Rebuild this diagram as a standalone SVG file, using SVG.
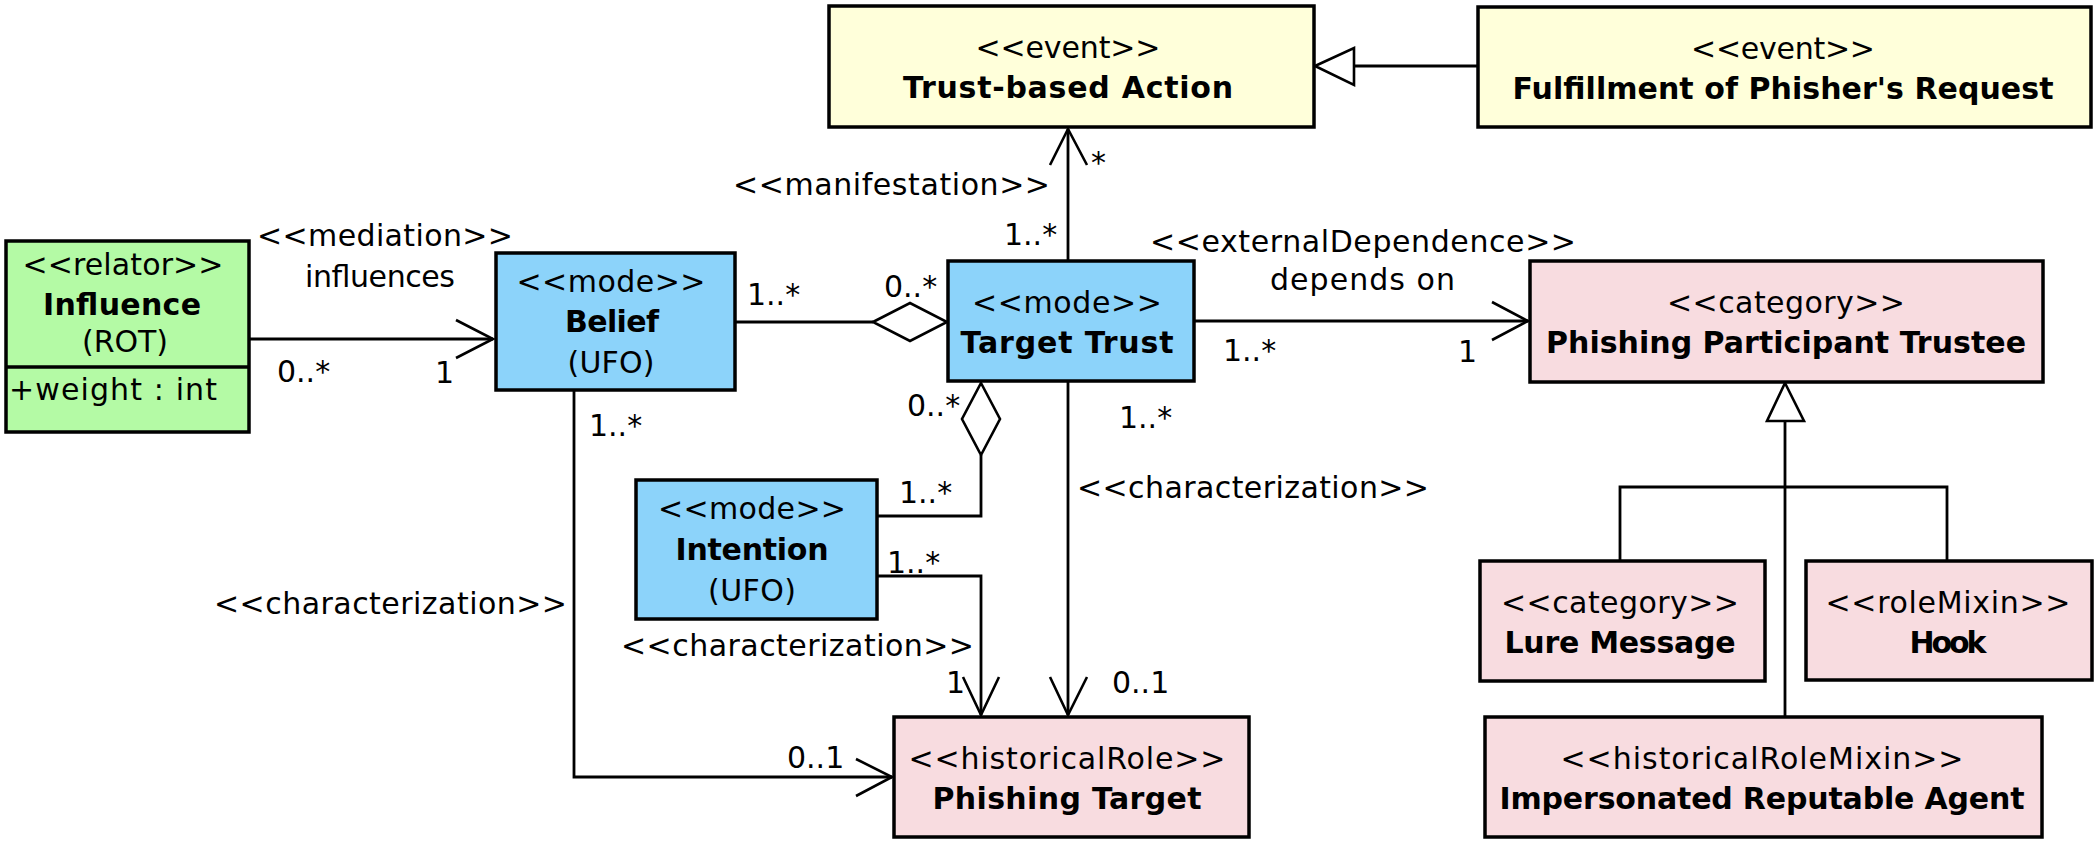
<svg xmlns="http://www.w3.org/2000/svg" width="2098" height="845" viewBox="0 0 2098 845">
<style>
text{font-family:"DejaVu Sans","Liberation Sans",sans-serif;font-size:30px;fill:#000}
.c{text-anchor:middle}
.b{font-weight:bold}
.box{stroke:#000;stroke-width:3.5}
.ev{fill:#FFFFDA}
.rel{fill:#B4FAA5}
.mode{fill:#8CD3FA}
.pink{fill:#F8DCE0}
.ln{fill:none;stroke:#000;stroke-width:2.8}
.ah{fill:none;stroke:#000;stroke-width:2.6}
.tri{fill:#fff;stroke:#000;stroke-width:2.6}
</style>
<rect width="2098" height="845" fill="#fff"/>

<g id="connectors">
  <!-- Fulfillment generalization to Trust-based Action -->
  <line class="ln" x1="1478" y1="66" x2="1354" y2="66"/>
  <polygon class="tri" points="1315,66 1354,48 1354,85"/>
  <!-- manifestation -->
  <line class="ln" x1="1068" y1="261" x2="1068" y2="129"/>
  <polyline class="ah" points="1050,165 1068,129 1087,165"/>
  <!-- mediation -->
  <line class="ln" x1="249" y1="339" x2="493" y2="339"/>
  <polyline class="ah" points="456,320 493,339 456,358"/>
  <!-- Belief - Target Trust aggregation -->
  <line class="ln" x1="735" y1="322" x2="873" y2="322"/>
  <polygon class="tri" points="873,322 910,303 947,322 910,341"/>
  <!-- external dependence -->
  <line class="ln" x1="1194" y1="321" x2="1528" y2="321"/>
  <polyline class="ah" points="1492,302 1528,321 1492,340"/>
  <!-- Intention - Target Trust aggregation -->
  <polyline class="ln" points="877,516 981,516 981,455"/>
  <polygon class="tri" points="981,383 1000,419 981,455 962,419"/>
  <!-- Intention -> Phishing Target -->
  <polyline class="ln" points="877,576 981,576 981,715"/>
  <polyline class="ah" points="963,677 981,715 999,677"/>
  <!-- Target Trust -> Phishing Target -->
  <line class="ln" x1="1068" y1="381" x2="1068" y2="715"/>
  <polyline class="ah" points="1050,677 1068,715 1087,677"/>
  <!-- Belief -> Phishing Target -->
  <polyline class="ln" points="574,390 574,777 892,777"/>
  <polyline class="ah" points="856,759 892,777 856,796"/>
  <!-- generalization to Phishing Participant Trustee -->
  <line class="ln" x1="1785" y1="421" x2="1785" y2="717"/>
  <polyline class="ln" points="1620,561 1620,487 1947,487 1947,561"/>
  <polygon class="tri" points="1785,383 1804,421 1767,421"/>

  <!-- labels -->
  <text x="1091" y="173">*</text>
  <text x="1004" y="245">1..*</text>
  <text x="733" y="195" textLength="317">&lt;&lt;manifestation&gt;&gt;</text>
  <text x="257" y="246" textLength="256">&lt;&lt;mediation&gt;&gt;</text>
  <text x="305" y="287" textLength="150">influences</text>
  <text x="277" y="382">0..*</text>
  <text x="435" y="383">1</text>
  <text x="747" y="305">1..*</text>
  <text x="884" y="297">0..*</text>
  <text x="1150" y="252" textLength="426">&lt;&lt;externalDependence&gt;&gt;</text>
  <text x="1270" y="290" textLength="185">depends on</text>
  <text x="1223" y="361">1..*</text>
  <text x="1458" y="362">1</text>
  <text x="589" y="436">1..*</text>
  <text x="907" y="416">0..*</text>
  <text x="1119" y="428">1..*</text>
  <text x="214" y="614" textLength="353">&lt;&lt;characterization&gt;&gt;</text>
  <text x="899" y="503">1..*</text>
  <text x="887" y="573">1..*</text>
  <text x="621" y="656" textLength="353">&lt;&lt;characterization&gt;&gt;</text>
  <text x="946" y="693">1</text>
  <text x="1077" y="498" textLength="352">&lt;&lt;characterization&gt;&gt;</text>
  <text x="1112" y="693">0..1</text>
  <text x="787" y="768">0..1</text>
</g>

<g id="trust-based-action">
  <rect class="box ev" x="829" y="6" width="485" height="121"/>
  <text class="c" x="1068" y="58" textLength="185">&lt;&lt;event&gt;&gt;</text>
  <text class="c b" x="1068" y="98" textLength="330">Trust-based Action</text>
</g>
<g id="fulfillment">
  <rect class="box ev" x="1478" y="7" width="613" height="120"/>
  <text class="c" x="1783" y="59" textLength="184">&lt;&lt;event&gt;&gt;</text>
  <text class="c b" x="1783" y="99" textLength="541">Fulfillment of Phisher's Request</text>
</g>
<g id="influence">
  <rect class="box rel" x="6" y="241" width="243" height="191"/>
  <line class="box" x1="6" y1="367" x2="249" y2="367"/>
  <text class="c" x="123" y="275" textLength="201">&lt;&lt;relator&gt;&gt;</text>
  <text class="c b" x="122" y="315" textLength="158">Influence</text>
  <text class="c" x="125" y="352" textLength="86">(ROT)</text>
  <text x="9" y="400" textLength="208">+weight : int</text>
</g>
<g id="belief">
  <rect class="box mode" x="496" y="253" width="239" height="137"/>
  <text class="c" x="611" y="292" textLength="189">&lt;&lt;mode&gt;&gt;</text>
  <text class="c b" x="612" y="332" textLength="94">Belief</text>
  <text class="c" x="611" y="373" textLength="87">(UFO)</text>
</g>
<g id="target-trust">
  <rect class="box mode" x="948" y="261" width="246" height="120"/>
  <text class="c" x="1067" y="313" textLength="190">&lt;&lt;mode&gt;&gt;</text>
  <text class="c b" x="1067" y="353" textLength="213">Target Trust</text>
</g>
<g id="phishing-participant-trustee">
  <rect class="box pink" x="1530" y="261" width="513" height="121"/>
  <text class="c" x="1786" y="313" textLength="238">&lt;&lt;category&gt;&gt;</text>
  <text class="c b" x="1786" y="353" textLength="480">Phishing Participant Trustee</text>
</g>
<g id="intention">
  <rect class="box mode" x="636" y="480" width="241" height="139"/>
  <text class="c" x="752" y="519" textLength="188">&lt;&lt;mode&gt;&gt;</text>
  <text class="c b" x="752" y="560" textLength="153">Intention</text>
  <text class="c" x="752" y="601" textLength="88">(UFO)</text>
</g>
<g id="phishing-target">
  <rect class="box pink" x="894" y="717" width="355" height="120"/>
  <text class="c" x="1067" y="769" textLength="317">&lt;&lt;historicalRole&gt;&gt;</text>
  <text class="c b" x="1067" y="809" textLength="269">Phishing Target</text>
</g>
<g id="lure-message">
  <rect class="box pink" x="1480" y="561" width="285" height="120"/>
  <text class="c" x="1620" y="613" textLength="238">&lt;&lt;category&gt;&gt;</text>
  <text class="c b" x="1620" y="653" textLength="231">Lure Message</text>
</g>
<g id="hook">
  <rect class="box pink" x="1806" y="561" width="286" height="119"/>
  <text class="c" x="1948" y="613" textLength="245">&lt;&lt;roleMixin&gt;&gt;</text>
  <text class="c b" x="1948" y="653" textLength="77">Hook</text>
</g>
<g id="impersonated-reputable-agent">
  <rect class="box pink" x="1485" y="717" width="557" height="120"/>
  <text class="c" x="1762" y="769" textLength="403">&lt;&lt;historicalRoleMixin&gt;&gt;</text>
  <text class="c b" x="1762" y="809" textLength="525">Impersonated Reputable Agent</text>
</g>
</svg>
